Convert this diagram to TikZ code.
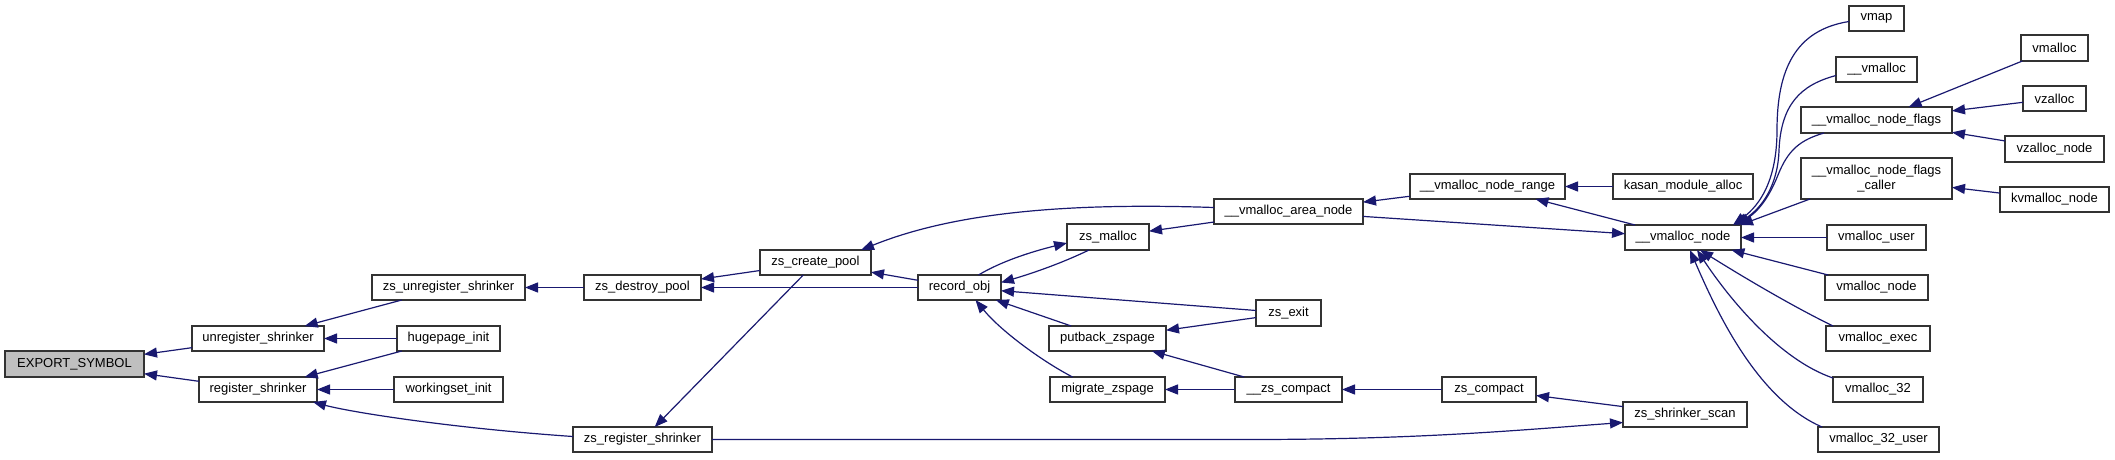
\documentclass[tikz,border=0pt]{standalone}
\usepackage{fontspec}
\setmainfont{Liberation Sans}
\usetikzlibrary{arrows.meta}
\definecolor{edgecol}{HTML}{191970}
\definecolor{boxcol}{HTML}{333333}
\definecolor{hlfill}{HTML}{BFBFBF}
\tikzset{
  box/.style={draw=boxcol, line width=1.4pt, fill=white, inner sep=0pt, outer sep=0pt,
    font=\fontsize{13}{15}\selectfont, align=center},
  edge/.style={draw=edgecol, line width=1.2pt, {Triangle[length=13pt,width=10pt]}-},
}
\newcommand{\bx}[7][]{\node[box,#1,minimum width={#5-#3},minimum height={#6-#4}] (#2) at ({(#3+#5)/2},{(#4+#6)/2}) {#7};}
\begin{document}
\begin{tikzpicture}[x=1pt,y=-1pt]
\useasboundingbox (0,0) rectangle (2115,459);
% nodes
\bx[fill=hlfill]{ES}{5}{351}{144}{377}{EXPORT\_SYMBOL}
\bx{us}{192}{326}{324}{351}{unregister\_shrinker}
\bx{rs}{199}{377}{317}{402}{register\_shrinker}
\bx{zus}{372}{275}{525}{300}{zs\_unregister\_shrinker}
\bx{hi}{397}{326}{500}{351}{hugepage\_init}
\bx{wi}{394}{377}{503}{402}{workingset\_init}
\bx{zdp}{584}{275}{701}{300}{zs\_destroy\_pool}
\bx{zrs}{573}{427}{712}{452}{zs\_register\_shrinker}
\bx{zcp}{760}{250}{871}{275}{zs\_create\_pool}
\bx{ro}{918}{275}{1001}{300}{record\_obj}
\bx{zm}{1067}{224}{1149}{250}{zs\_malloc}
\bx{van}{1214}{199}{1363}{224}{\_\_vmalloc\_area\_node}
\bx{zex}{1256}{300}{1321}{326}{zs\_exit}
\bx{pz}{1049}{326}{1166}{351}{putback\_zspage}
\bx{mz}{1050}{377}{1165}{402}{migrate\_zspage}
\bx{zsc}{1235}{377}{1342}{402}{\_\_zs\_compact}
\bx{zc}{1442}{377}{1536}{402}{zs\_compact}
\bx{zss}{1623}{402}{1747}{427}{zs\_shrinker\_scan}
\bx{vnr}{1410}{174}{1565}{199}{\_\_vmalloc\_node\_range}
\bx{kma}{1613}{174}{1753}{199}{kasan\_module\_alloc}
\bx{vn}{1625}{225}{1741}{250}{\_\_vmalloc\_node}
\bx{vmap}{1849}{6}{1904}{31}{vmap}
\bx{vmu}{1836}{57}{1917}{82}{\_\_vmalloc}
\bx{vnf}{1801}{107}{1952}{133}{\_\_vmalloc\_node\_flags}
\bx{vnfc}{1801}{158}{1952}{199}{\_\_vmalloc\_node\_flags\\\_caller}
\bx{vmalloc}{2021}{35}{2088}{61}{vmalloc}
\bx{vzalloc}{2023}{86}{2086}{111}{vzalloc}
\bx{vzn}{2005}{136}{2104}{162}{vzalloc\_node}
\bx{kvn}{2000}{187}{2109}{212}{kvmalloc\_node}
\bx{vu}{1827}{225}{1926}{250}{vmalloc\_user}
\bx{vmn}{1825}{275}{1928}{300}{vmalloc\_node}
\bx{vme}{1826}{326}{1930}{351}{vmalloc\_exec}
\bx{vtt}{1833}{377}{1923}{402}{vmalloc\_32}
\bx{vttu}{1818}{427}{1939}{452}{vmalloc\_32\_user}
% straight edges
\draw[edge] (ES) -- (us);
\draw[edge] (ES) -- (rs);
\draw[edge] (us) -- (zus);
\draw[edge] (us) -- (hi);
\draw[edge] (rs) -- (hi);
\draw[edge] (rs) -- (wi);
\draw[edge] (zus) -- (zdp);
\draw[edge] (zdp) -- (zcp);
\draw[edge] (zdp) -- (ro);
\draw[edge] (zrs) -- (zcp);
\draw[edge] (zcp) -- (ro);
\draw[edge] (zm) -- (van);
\draw[edge] (ro) -- (zex);
\draw[edge] (ro) -- (pz);
\draw[edge] (pz) -- (zex);
\draw[edge] (pz) -- (zsc);
\draw[edge] (mz) -- (zsc);
\draw[edge] (zsc) -- (zc);
\draw[edge] (zc) -- (zss);
\draw[edge] (van) -- (vnr);
\draw[edge] (vn) -- (van);
\draw[edge] (vnr) -- (kma);
\draw[edge] (vnr) -- (vn);
\draw[edge] (vn) -- (vu);
\draw[edge] (vn) -- (vmn);
\draw[edge] (vnf) -- (vmalloc);
\draw[edge] (vnf) -- (vzalloc);
\draw[edge] (vnf) -- (vzn);
\draw[edge] (vnfc) -- (kvn);
\draw[edge] ([xshift=-1pt]vn.north east) -- ([xshift=9pt]vnfc.south west);
% curved edges
\draw[edge] ([xshift=-4pt]rs.south east) .. controls (350,412) and (450,428) .. ([yshift=3pt]zrs.west);
\draw[edge] ([xshift=-10pt]zcp.north east) .. controls (960,210) and (1080,203) .. ([yshift=4pt]van.west);
\draw[edge] ([yshift=-6pt]zm.west) .. controls (1030,252) and (1000,262) .. ([xshift=19pt]ro.north);
\draw[edge] ([yshift=5pt]ro.east) .. controls (1030,274) and (1060,264) .. ([xshift=-19pt]zm.south);
\draw[edge] ([xshift=16pt]ro.south) .. controls (1000,330) and (1040,360) .. ([xshift=-35pt]mz.north);
\draw[edge] ([yshift=-8pt]zss.west) .. controls (1520,430) and (1420,439.5) .. (1250,439.5) -- (zrs.east);
\draw[edge] ([xshift=-8pt]vn.north east) .. controls (1760,205) and (1777,180) .. (1777,130) .. controls (1777,70) and (1795,30) .. ([yshift=-3pt]vmap.west);
\draw[edge] ([xshift=-6pt]vn.north east) .. controls (1762,208) and (1778,185) .. (1779,150) .. controls (1781,105) and (1800,85) .. ([yshift=-6pt]vmu.west);
\draw[edge] ([xshift=-4pt]vn.north east) .. controls (1760,210) and (1770,195) .. (1778,175) .. controls (1788,150) and (1800,140) .. ([xshift=23pt]vnf.south west);
\draw[edge] ([xshift=17pt]vn.south) .. controls (1740,275) and (1790,305) .. ([xshift=7pt]vme.north west);
\draw[edge] ([xshift=14pt]vn.south) .. controls (1730,300) and (1780,360) .. ([yshift=-1pt]vtt.north west);
\draw[edge] ([xshift=7pt]vn.south) .. controls (1720,320) and (1760,400) .. ([xshift=4pt]vttu.north west);
\end{tikzpicture}
\end{document}
